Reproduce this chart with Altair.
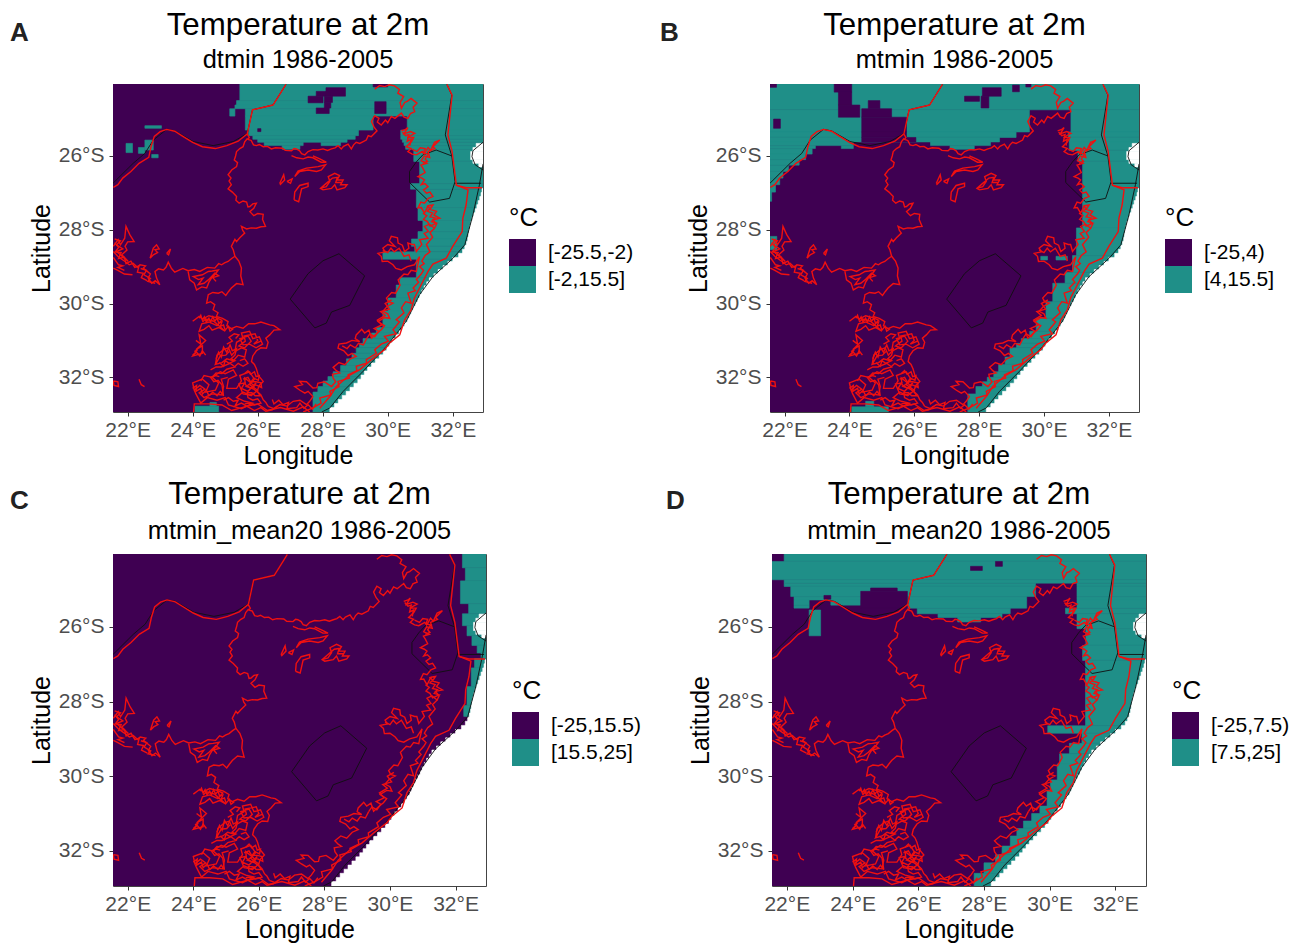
import altair as alt
import pandas as pd

FONT = "Liberation Sans"
PURPLE = "#3F0052"
TEAL = "#1F8F88"
LON_DOMAIN = [21.55, 32.93]
LAT_DOMAIN = [-32.94, -24.05]
LON_TICKS = [22, 24, 26, 28, 30, 32]
LAT_TICKS = [-26, -28, -30, -32]

# coast: latitude of each raster row, and the longitude where the sea starts
SEA_LAT = [-26.88, -26.99, -27.10, -27.21, -27.32, -27.43, -27.54, -27.65, -27.76, -27.87, -27.98, -28.09, -28.20, -28.31,
           -28.42, -28.53, -28.64, -28.75, -28.86, -28.97, -29.08, -29.19, -29.30, -29.41, -29.52, -29.63, -29.74, -29.85,
           -29.96, -30.07, -30.18, -30.29, -30.40, -30.51, -30.62, -30.73, -30.84, -30.95, -31.06, -31.17, -31.28, -31.39,
           -31.50, -31.61, -31.72, -31.83, -31.94, -32.05, -32.16, -32.27, -32.38, -32.49, -32.60, -32.71, -32.82, -32.99]
SEA_LON = [32.9, 32.87, 32.83, 32.78, 32.74, 32.69, 32.64, 32.6, 32.56, 32.53, 32.5, 32.48, 32.46, 32.42,
           32.37, 32.3, 32.18, 32.0, 31.85, 31.7, 31.55, 31.42, 31.28, 31.2, 31.12, 31.05, 30.98, 30.92,
           30.85, 30.78, 30.72, 30.66, 30.6, 30.52, 30.44, 30.35, 30.25, 30.14, 30.05, 29.97, 29.86, 29.74,
           29.62, 29.5, 29.38, 29.28, 29.18, 29.08, 28.96, 28.84, 28.72, 28.6, 28.48, 28.36, 28.22]
# bay: (top, bottom, lon left)
BAY = [(-25.66, -25.77, 32.72), (-25.77, -25.88, 32.62), (-25.88, -26.1, 32.55), (-26.1, -26.2, 32.62), (-26.2, -26.3, 32.8)]

# each cell: (lat top, lat bottom, lon left, lon right)
TEAL_A = [(-24.04, -24.5, 25.45, 33), (-24.5, -24.62, 25.35, 33), (-24.62, -24.72, 25.3, 33), (-24.72, -24.92, 25.62, 33),
          (-24.72, -24.92, 25.14, 25.3), (-24.92, -25.3, 25.62, 29.55), (-24.92, -25.3, 30.6, 33),
          (-25.3, -25.45, 25.72, 29.1), (-25.3, -25.45, 30.4, 33), (-25.45, -25.55, 25.85, 29.0), (-25.45, -25.55, 30.4, 33),
          (-25.55, -25.63, 26.0, 28.75), (-25.55, -25.63, 30.45, 33), (-25.63, -25.72, 26.2, 27.4), (-25.63, -25.72, 27.95, 28.55),
          (-25.63, -25.72, 30.5, 33), (-25.72, -25.82, 26.75, 27.3), (-25.72, -25.82, 30.55, 33),
          (-25.82, -26.15, 30.8, 33), (-26.15, -26.75, 30.98, 33), (-26.75, -26.9, 30.7, 33), (-26.9, -27.4, 30.88, 33),
          (-27.4, -27.75, 30.93, 33), (-27.75, -28.05, 31.08, 33), (-28.05, -28.25, 30.93, 33), (-28.25, -28.45, 30.73, 33),
          (-28.45, -28.6, 30.83, 33), (-28.6, -28.8, 29.85, 33), (-28.8, -29.3, 30.88, 33), (-29.3, -29.5, 30.37, 33),
          (-29.5, -29.85, 30.26, 33), (-29.85, -30.2, 30.01, 33), (-30.2, -30.65, 29.85, 33), (-30.65, -30.8, 29.65, 33), (-30.8, -30.95, 29.5, 33),
          (-30.95, -31.08, 29.24, 33), (-31.08, -31.2, 29.13, 33), (-31.2, -31.35, 29.03, 33), (-31.35, -31.5, 28.9, 33),
          (-31.5, -31.68, 28.73, 33), (-31.68, -31.85, 28.55, 33), (-31.85, -31.98, 28.32, 33), (-31.98, -32.1, 28.16, 33),
          (-32.1, -32.25, 28.01, 33), (-32.25, -32.4, 27.85, 33), (-32.4, -32.96, 27.7, 33),
          (-32.78, -32.96, 24.07, 24.8), (-32.68, -32.78, 24.53, 24.73),
          (-25.18, -25.25, 22.53, 23.04), (-25.66, -25.91, 21.95, 22.15), (-25.77, -25.93, 22.33, 22.53),
          (-25.57, -25.84, 22.53, 22.79), (-25.96, -26.05, 22.74, 22.94)]
HOLES_A = [(-24.53, -24.85, 29.6, 29.95), (-24.38, -24.56, 27.55, 28.01), (-24.25, -24.38, 27.8, 28.1),
           (-24.15, -24.38, 28.1, 28.7), (-24.38, -24.55, 28.05, 28.3), (-24.7, -24.85, 27.8, 28.2),
           (-24.55, -24.7, 28.05, 28.25), (-24.04, -24.13, 29.55, 30.0), (-25.26, -25.34, 26.0, 26.1)]

TEAL_B = [(-24.04, -24.75, 21.5, 33), (-24.75, -25.35, 21.5, 29.55), (-24.75, -25.35, 30.83, 33),
          (-25.35, -25.5, 21.5, 29.14), (-25.35, -25.5, 30.75, 33), (-25.5, -25.62, 21.5, 28.63), (-25.5, -25.62, 30.78, 33),
          (-25.62, -25.72, 21.5, 24.12), (-25.62, -25.72, 26.5, 28.35), (-25.72, -25.8, 21.5, 22.95), (-25.72, -25.8, 23.75, 24.12),
          (-25.72, -25.82, 27.1, 27.85), (-25.62, -25.85, 30.78, 33), (-25.8, -25.95, 21.5, 22.85), (-25.95, -26.1, 21.5, 22.65),
          (-26.1, -26.25, 21.5, 22.45), (-26.25, -26.42, 21.5, 22.12), (-26.42, -26.6, 21.5, 21.95), (-26.6, -26.78, 21.5, 21.85),
          (-26.78, -26.98, 21.5, 21.72), (-26.98, -27.23, 21.5, 21.6),
          (-25.85, -26.15, 31.05, 33), (-26.15, -27.95, 31.19, 33), (-27.95, -28.7, 31.0, 33), (-28.7, -29.15, 30.88, 33),
          (-29.15, -29.45, 30.65, 33), (-29.45, -29.95, 30.27, 33), (-29.95, -30.4, 30.06, 33), (-30.4, -30.75, 29.76, 33),
          (-30.75, -30.95, 29.56, 33), (-30.95, -31.08, 29.3, 33), (-31.08, -31.2, 29.15, 33), (-31.2, -31.45, 28.95, 33), (-31.45, -31.65, 28.8, 33),
          (-31.65, -31.85, 28.6, 33), (-31.85, -32.0, 28.45, 33), (-32.0, -32.12, 28.25, 33), (-32.12, -32.25, 28.1, 33), (-32.25, -32.45, 27.9, 33),
          (-32.45, -32.96, 27.65, 33),
          (-28.72, -28.82, 29.9, 30.11), (-28.72, -28.82, 30.37, 30.72), (-32.8, -32.96, 24.07, 25.2), (-32.65, -32.8, 24.5, 24.75),
          (-28.18, -28.54, 21.56, 21.76)]
HOLES_B = [(-24.04, -24.27, 23.53, 24.07), (-24.27, -24.62, 23.66, 24.07), (-24.62, -24.95, 23.66, 24.32),
           (-24.5, -24.72, 24.58, 24.94), (-24.72, -24.95, 24.38, 25.3), (-24.95, -25.35, 24.38, 25.76),
           (-25.35, -25.5, 24.38, 25.76), (-25.5, -25.62, 24.38, 26.05),
           (-24.38, -24.52, 27.55, 28.01), (-24.15, -24.38, 28.1, 28.68), (-24.38, -24.7, 28.06, 28.3),
           (-24.08, -24.26, 29.03, 29.24), (-24.04, -24.13, 29.44, 29.6), (-25.0, -25.25, 21.66, 21.87), (-24.04, -24.14, 21.5, 21.75)]

TEAL_C = [(-24.04, -24.42, 32.21, 33), (-24.42, -24.77, 32.3, 33), (-24.77, -25.38, 32.15, 33), (-25.38, -25.65, 32.4, 33),
          (-25.65, -25.97, 32.21, 33), (-25.97, -26.24, 32.35, 33), (-26.24, -26.5, 32.5, 33), (-26.5, -26.7, 32.66, 33),
          (-26.7, -26.85, 32.78, 33), (-26.85, -27.1, 32.58, 33), (-27.1, -27.6, 32.48, 33), (-27.6, -28.1, 32.35, 33),
          (-28.1, -28.4, 32.25, 33)]
HOLES_C = []

TEAL_D = [(-24.04, -24.25, 21.92, 33), (-24.25, -24.74, 21.5, 33), (-24.74, -24.83, 21.92, 33), (-24.83, -24.92, 21.92, 29.57),
          (-24.83, -24.92, 30.83, 33), (-24.92, -25.19, 22.12, 29.57), (-24.92, -25.19, 30.83, 33), (-25.19, -25.28, 22.22, 29.3),
          (-25.19, -25.28, 30.83, 33), (-25.28, -25.42, 22.22, 22.68), (-25.28, -25.42, 23.34, 24.25), (-25.42, -25.5, 22.22, 22.68),
          (-25.28, -25.5, 25.67, 29.3), (-25.28, -25.5, 30.83, 33), (-25.5, -25.65, 25.97, 28.8), (-25.5, -25.65, 30.48, 33),
          (-25.65, -25.75, 26.6, 28.55), (-25.75, -25.87, 27.2, 27.9), (-25.55, -26.24, 22.68, 23.03),
          (-25.65, -26.05, 30.83, 33), (-26.05, -26.5, 31.1, 33), (-26.5, -26.9, 31.0, 33), (-26.9, -28.65, 31.09, 33),
          (-28.65, -28.85, 29.94, 33), (-28.85, -29.12, 30.98, 33), (-29.12, -29.4, 30.6, 33), (-29.4, -29.67, 30.3, 33),
          (-29.67, -30.1, 30.23, 33), (-30.1, -30.37, 30.02, 33), (-30.37, -30.8, 29.92, 33), (-30.8, -31.0, 29.7, 33), (-31.0, -31.2, 29.45, 33),
          (-31.2, -31.4, 29.2, 33), (-31.4, -31.6, 29.0, 33), (-31.6, -31.87, 28.8, 33), (-31.87, -32.1, 28.55, 33), (-32.1, -32.32, 28.35, 33),
          (-32.32, -32.6, 28.0, 33), (-32.6, -32.96, 27.7, 33)]
HOLES_D = [(-24.96, -25.05, 24.55, 25.36), (-25.05, -25.5, 24.25, 25.67), (-25.16, -25.26, 23.13, 23.34),
           (-24.38, -24.49, 27.59, 27.95), (-24.25, -24.38, 28.35, 28.56)]

# black outlines (lon, lat)
BLACK_BW = [(21.55, -26.74), (22.17, -26.2), (22.53, -25.93), (22.79, -25.57), (23.2, -25.28), (23.45, -25.32), (24.02, -25.61),
            (24.63, -25.72), (25.25, -25.61), (25.68, -25.39), (25.84, -24.75), (26.47, -24.62), (26.87, -24.06)]
BLACK_LS = [(28.5, -28.65), (29.29, -29.25), (28.83, -30.05), (28.27, -30.23), (28.11, -30.53), (27.76, -30.66), (27.0, -29.88),
            (27.55, -29.19), (28.01, -28.84), (28.5, -28.65)]
BLACK_SZ = [(31.97, -26.0), (31.49, -25.84), (31.08, -25.97), (30.88, -26.16), (30.67, -26.42), (30.67, -26.72), (31.29, -27.25),
            (31.9, -27.15), (32.07, -26.7), (31.97, -26.0)]
BLACK_MZ = [(31.82, -24.06), (31.97, -24.35), (31.77, -25.43), (31.97, -26.0)]
BLACK_MZ2 = [(32.07, -26.74), (32.87, -26.74)]
BLACK_COAST = [(32.93, -26.22), (32.82, -26.78), (32.62, -27.6), (32.37, -28.41), (32.01, -28.77), (31.39, -29.27), (30.98, -29.76),
               (30.57, -30.48), (29.96, -31.16), (29.24, -31.84), (28.63, -32.38), (28.22, -32.83), (27.97, -32.94)]
BLACK_BAY = [(32.93, -25.63), (32.62, -25.86), (32.59, -26.02), (32.69, -26.24), (32.93, -26.38)]

RED_BW = [(21.56, -26.85), (21.7, -26.78), (21.85, -26.6), (22.1, -26.42), (22.35, -26.2), (22.65, -26.04), (22.72, -25.75),
          (22.82, -25.47), (23.0, -25.34), (23.2, -25.28), (23.45, -25.33), (23.7, -25.47), (24.0, -25.63), (24.3, -25.75),
          (24.7, -25.8), (25.05, -25.72), (25.4, -25.6), (25.68, -25.4), (25.84, -24.75), (26.47, -24.62), (26.87, -24.06)]
RED_ESC = [(25.68, -25.41), (25.74, -25.5), (25.7, -25.55), (25.8, -25.58), (25.87, -25.7), (25.96, -25.72), (26.05, -25.69), (26.17, -25.75), (26.3, -25.74),
           (26.42, -25.81), (26.55, -25.78), (26.76, -25.79), (26.85, -25.85), (27.04, -25.86), (27.12, -25.8), (27.19, -25.81), (27.29, -25.86), (27.35, -25.94),
           (27.45, -25.97), (27.55, -25.88), (27.7, -25.83), (27.85, -25.84), (28.01, -25.81), (28.15, -25.85), (28.27, -25.81), (28.38, -25.78), (28.47, -25.72),
           (28.57, -25.81), (28.64, -25.74), (28.78, -25.68), (28.88, -25.81), (28.95, -25.7), (29.03, -25.63), (29.14, -25.66), (29.34, -25.57), (29.4, -25.45),
           (29.49, -25.48), (29.67, -25.32), (29.58, -25.22), (29.5, -25.07), (29.6, -24.91), (29.73, -24.98), (29.68, -25.08), (29.8, -25.16), (29.93, -25.03),
           (30.0, -25.1), (30.11, -24.93), (30.22, -24.98), (30.42, -24.84), (30.5, -24.95), (30.62, -24.98), (30.7, -24.85), (30.83, -24.8), (30.78, -24.68), (30.9, -24.57),
           (30.8, -24.5), (30.72, -24.44), (30.6, -24.52), (30.52, -24.55), (30.42, -24.71), (30.38, -24.55), (30.49, -24.39),
           (30.31, -24.3), (30.36, -24.2), (30.21, -24.1), (30.05, -24.07), (29.91, -24.12), (29.75, -24.09), (29.6, -24.19)]
RED_ESC2 = [(27.04, -25.99), (27.2, -26.05), (27.4, -26.08), (27.55, -26.03), (27.7, -26.05), (27.95, -26.17), (28.11, -26.17), (27.91, -26.08), (27.7, -26.0)]
RED_L1 = [(26.68, -26.74), (26.8, -26.51), (26.83, -26.65), (26.7, -26.77), (26.68, -26.74)]
RED_L2 = [(26.9, -26.69), (27.06, -26.62), (27.01, -26.74), (26.9, -26.69)]
RED_L3 = [(27.12, -27.19), (27.14, -26.98), (27.29, -26.8), (27.55, -26.74), (27.55, -26.83), (27.35, -26.89), (27.26, -27.24), (27.12, -27.19)]
RED_L4 = [(27.14, -26.56), (27.29, -26.42), (27.55, -26.38), (27.81, -26.42), (27.96, -26.38), (28.09, -26.24), (27.86, -26.29),
          (27.5, -26.33), (27.24, -26.41), (27.14, -26.56)]
RED_L5 = [(27.93, -26.88), (28.11, -26.83), (28.22, -26.69), (28.17, -26.56), (28.37, -26.47), (28.52, -26.53), (28.44, -26.65),
          (28.63, -26.65), (28.55, -26.78), (28.75, -26.78), (28.68, -26.86), (28.44, -26.92), (28.37, -26.78), (28.27, -26.88),
          (28.01, -26.92), (27.93, -26.88), (28.1, -26.75), (28.3, -26.6), (28.45, -26.58), (28.4, -26.72), (28.6, -26.72)]
RED_E1 = [(30.42, -25.32), (30.55, -25.28), (30.62, -25.23), (30.5, -25.4), (30.7, -25.34), (30.83, -25.39), (30.6, -25.5), (30.8, -25.5), (30.73, -25.61), (30.57, -25.75), (30.72, -25.8), (30.62, -25.88),
          (30.75, -25.95), (30.88, -25.97), (31.06, -25.88), (31.12, -25.95), (31.24, -25.77), (31.32, -25.85), (31.44, -25.63), (31.6, -25.57), (31.39, -25.75), (31.45, -25.8), (31.24, -25.88),
          (31.29, -26.04), (31.12, -26.0), (31.03, -26.13), (31.2, -26.2), (31.02, -26.25), (31.08, -26.33), (31.15, -26.45), (30.93, -26.56), (31.05, -26.6), (31.13, -26.65), (31.03, -26.78), (31.14, -26.75), (31.24, -26.83),
          (31.1, -26.92), (31.19, -27.01), (31.3, -26.98), (31.39, -27.1), (31.25, -27.15), (31.13, -27.28), (31.02, -27.25), (30.93, -27.41), (31.03, -27.4), (31.13, -27.55), (31.25, -27.35), (31.39, -27.33), (31.3, -27.45), (31.5, -27.5), (31.42, -27.6), (31.6, -27.69),
          (31.39, -27.73), (31.5, -27.85), (31.44, -27.96), (31.28, -27.85), (31.13, -27.91), (31.25, -28.05), (31.12, -28.1), (31.24, -28.23), (30.98, -28.27), (31.05, -28.4), (30.88, -28.59), (30.82, -28.4), (30.75, -28.4), (30.62, -28.36),
          (30.65, -28.5), (30.52, -28.59), (30.45, -28.42), (30.32, -28.36), (30.3, -28.22), (30.11, -28.18), (30.05, -28.3), (30.22, -28.45), (30.0, -28.4), (29.85, -28.5), (29.92, -28.6), (29.7, -28.64), (29.8, -28.72), (29.83, -28.86),
          (30.0, -28.85), (30.16, -28.95), (30.25, -29.05), (30.42, -29.09), (30.6, -29.0), (30.82, -28.95), (30.98, -28.73), (30.92, -28.95), (30.88, -29.13), (30.72, -29.1), (30.62, -29.22), (30.5, -29.2), (30.32, -29.36), (30.38, -29.5),
          (30.24, -29.72), (30.12, -29.7), (29.96, -29.85), (30.02, -29.95), (30.16, -29.99), (29.98, -30.08), (29.85, -30.21), (30.0, -30.28), (30.06, -30.4), (29.9, -30.38), (29.7, -30.49), (29.9, -30.6), (29.8, -30.71),
          (29.68, -30.8), (29.5, -30.94), (29.42, -30.72), (29.29, -30.8), (29.2, -30.7), (29.03, -30.85), (29.0, -30.95), (29.14, -31.03), (28.9, -31.0), (28.73, -31.07), (28.5, -31.1), (28.47, -31.21), (28.65, -31.28), (28.78, -31.41),
          (28.9, -31.35), (29.03, -31.43), (28.85, -31.5), (28.68, -31.66), (28.5, -31.6), (28.32, -31.73), (28.42, -31.82), (28.52, -31.88), (28.3, -31.92), (28.32, -32.02), (28.4, -32.12), (28.27, -32.25), (28.05, -32.12), (27.85, -32.16),
          (27.82, -32.28), (27.7, -32.29), (27.5, -32.12), (27.29, -32.11), (27.38, -32.2), (27.14, -32.25), (27.3, -32.35), (27.45, -32.43), (27.55, -32.38), (27.7, -32.52), (27.6, -32.65), (27.5, -32.74), (27.3, -32.62), (27.09, -32.65),
          (26.9, -32.78), (26.68, -32.74), (26.5, -32.85), (26.32, -32.79)]
RED_E2 = [(31.44, -27.96), (31.3, -28.08), (31.38, -28.2), (31.19, -28.4), (31.3, -28.6), (31.15, -28.7), (31.05, -28.85), (31.12, -28.92), (30.98, -29.0), (31.1, -29.1), (31.03, -29.2), (30.88, -29.35), (30.95, -29.42),
          (30.78, -29.58), (30.85, -29.65), (30.62, -29.72), (30.72, -29.99), (30.55, -29.95), (30.42, -30.12), (30.5, -30.25), (30.26, -30.44), (30.36, -30.5), (30.16, -30.71), (30.26, -30.82),
          (29.9, -30.89), (30.02, -31.02), (29.8, -31.1), (29.6, -31.25), (29.65, -31.35), (29.34, -31.52), (29.35, -31.62), (29.03, -31.7), (29.05, -31.82), (28.78, -31.93), (28.82, -32.02), (28.47, -32.11), (28.5, -32.25),
          (28.22, -32.38), (28.25, -32.48), (27.91, -32.56), (27.95, -32.7), (27.7, -32.83), (27.4, -32.94)]
RED_E3 = [(31.2, -27.35), (31.3, -27.42), (31.22, -27.5), (31.38, -27.55), (31.3, -27.65), (31.45, -27.68), (31.35, -27.78), (31.5, -27.82), (31.3, -27.9), (31.22, -27.78), (31.1, -27.72), (31.2, -27.62), (31.08, -27.55)]
RED_E4 = [(30.75, -25.82), (30.9, -25.88), (31.0, -25.78), (31.15, -25.8), (31.1, -25.92), (31.25, -25.95), (31.15, -26.08), (31.22, -26.15), (31.08, -26.2)]
RED_E5 = [(30.45, -25.35), (30.55, -25.45), (30.65, -25.42), (30.6, -25.6), (30.72, -25.55), (30.68, -25.72)]
RED_E6 = [(29.35, -30.95), (29.45, -30.82), (29.6, -30.9), (29.72, -30.75), (29.58, -30.68), (29.82, -30.58), (29.68, -30.45), (29.92, -30.32), (29.78, -30.22), (30.05, -30.15), (29.92, -30.0), (30.12, -29.9)]
RED_E7 = [(28.6, -31.15), (28.75, -31.22), (28.85, -31.12), (29.0, -31.2), (29.1, -31.08), (29.25, -31.12), (29.35, -30.95)]
RED_E8 = [(29.85, -28.55), (30.0, -28.62), (30.1, -28.5), (30.2, -28.6), (30.35, -28.5), (30.5, -28.72), (30.65, -28.68), (30.72, -28.85)]
RED_COAST = [(31.82, -24.06), (31.98, -24.35), (31.85, -25.43), (31.98, -25.88), (32.11, -26.79), (32.41, -26.86), (32.9, -26.86)]
RED_COAST2 = [(32.11, -26.79), (32.47, -26.92), (32.41, -27.33), (32.31, -27.69), (32.29, -28.05), (32.0, -28.45), (31.8, -28.77),
              (31.39, -28.93), (31.24, -29.13), (31.03, -29.49), (30.82, -29.85), (30.72, -30.17), (30.52, -30.44), (30.37, -30.85),
              (30.06, -31.07), (29.9, -31.25), (29.5, -31.52), (29.14, -31.79), (28.78, -31.97), (28.42, -32.25), (28.22, -32.52), (27.91, -32.84)]
RED_INT = [(25.69, -25.52), (25.6, -25.62), (25.55, -25.75), (25.45, -25.8), (25.35, -25.88), (25.32, -26.0), (25.28, -26.11), (25.38, -26.18), (25.35, -26.29), (25.2, -26.38), (25.09, -26.51), (25.18, -26.6), (25.12, -26.68), (25.19, -26.78),
           (25.09, -26.89), (25.22, -26.98), (25.35, -27.1), (25.33, -27.2), (25.43, -27.28), (25.55, -27.22), (25.66, -27.25), (25.7, -27.38), (25.76, -27.37), (25.85, -27.3), (25.96, -27.28), (25.88, -27.42), (25.76, -27.51),
           (25.88, -27.62), (26.0, -27.56), (26.17, -27.58), (26.15, -27.72), (26.24, -27.91), (26.1, -27.92), (25.96, -27.96), (25.8, -27.95), (25.66, -27.98), (25.5, -27.91), (25.54, -28.02), (25.6, -28.09), (25.45, -28.22),
           (25.35, -28.32), (25.3, -28.26), (25.19, -28.45), (25.25, -28.55), (25.3, -28.72), (25.2, -28.78), (25.09, -28.86), (24.98, -28.9), (24.89, -28.95), (24.8, -28.92), (24.68, -29.04), (24.45, -29.02), (24.22, -29.13),
           (24.05, -29.08), (23.86, -29.11), (23.7, -29.05), (23.6, -29.09), (23.45, -29.15), (23.35, -29.05), (23.25, -28.88), (23.18, -29.02), (23.1, -29.09), (22.95, -29.06), (22.84, -29.13), (22.89, -29.31),
           (22.99, -29.49), (22.85, -29.38), (22.74, -29.45), (22.63, -29.31), (22.7, -29.2), (22.48, -29.04), (22.55, -28.98), (22.38, -28.95), (22.3, -29.02), (22.17, -28.91), (22.05, -28.95), (21.92, -28.86),
           (21.82, -28.8), (21.71, -28.73), (21.56, -28.59)]
RED_S1 = [(25.3, -28.72), (25.42, -28.85), (25.5, -29.04), (25.48, -29.25), (25.55, -29.49), (25.35, -29.46), (25.19, -29.58), (25.1, -29.68), (25.02, -29.78), (24.9, -29.68), (24.79, -29.72), (24.62, -29.7), (24.48, -29.76),
          (24.43, -29.99), (24.55, -29.95), (24.68, -30.03), (24.63, -30.17), (24.78, -30.25), (24.73, -30.35), (24.92, -30.4), (25.09, -30.49), (25.05, -30.6), (25.19, -30.68), (25.35, -30.62), (25.55, -30.67),
          (25.72, -30.55), (25.91, -30.55), (26.1, -30.5), (26.37, -30.58), (26.5, -30.6), (26.68, -30.71), (26.5, -30.72), (26.37, -30.85), (26.25, -30.94), (26.32, -31.05), (26.27, -31.21), (26.1, -31.2), (25.96, -31.28),
          (25.85, -31.42), (25.81, -31.57), (25.9, -31.65), (25.96, -31.77), (26.02, -31.95), (26.17, -32.11), (26.05, -32.22), (25.98, -32.38), (26.1, -32.48), (26.17, -32.61), (26.25, -32.68), (26.32, -32.79)]
RED_W2 = [(23.86, -29.13), (23.91, -29.36), (24.05, -29.45), (24.12, -29.63), (24.28, -29.55), (24.43, -29.58), (24.5, -29.42), (24.58, -29.31), (24.7, -29.2), (24.79, -29.09), (24.6, -29.12), (24.48, -29.13),
          (24.3, -29.22), (24.02, -29.27), (24.18, -29.35), (24.32, -29.31), (24.17, -29.49), (24.35, -29.45), (24.48, -29.36), (24.68, -29.18), (24.8, -29.25), (24.62, -29.3), (24.72, -29.4)]
RED_NW = [(21.56, -28.45), (21.71, -28.27), (21.78, -28.41), (21.91, -28.23), (21.95, -27.91), (22.07, -28.14), (22.2, -28.32),
          (22.0, -28.33), (21.92, -28.45), (21.98, -28.55), (21.82, -28.68), (22.02, -28.86), (21.66, -28.59), (21.85, -28.52), (21.66, -28.41), (21.78, -28.3), (21.6, -28.25)]
RED_NW2 = [(21.56, -29.04), (21.7, -29.1), (21.9, -29.2), (22.15, -29.22)]
RED_NW3 = [(21.56, -28.75), (21.72, -28.95), (21.85, -28.98), (21.7, -29.02), (21.9, -29.1)]
RED_NW4 = [(21.6, -28.35), (21.72, -28.48), (21.62, -28.6), (21.8, -28.62), (21.72, -28.78), (21.9, -28.75), (21.95, -28.92), (22.1, -28.85), (22.22, -29.02), (22.35, -28.98), (22.3, -29.15), (22.48, -29.18), (22.42, -29.3), (22.6, -29.38)]
RED_B1 = [(22.69, -28.77), (22.79, -28.5), (22.89, -28.41), (22.97, -28.52), (22.84, -28.54), (22.92, -28.62), (22.79, -28.68), (22.69, -28.77)]
RED_B2 = [(23.2, -28.64), (23.32, -28.52), (23.26, -28.68), (23.2, -28.64)]
RED_B3 = [(22.4, -29.05), (22.58, -29.1), (22.5, -29.22), (22.7, -29.32), (22.62, -29.4), (22.85, -29.45)]
RED_D1 = [(21.56, -32.1), (21.7, -32.12), (21.72, -32.25), (21.58, -32.22), (21.56, -32.1)]
RED_D2 = [(22.35, -32.05), (22.42, -32.2), (22.52, -32.25)]
RED_P1 = [(24.0, -30.48), (24.2, -30.35), (24.3, -30.42), (24.5, -30.33), (24.72, -30.38), (24.9, -30.45), (24.75, -30.6), (24.5, -30.5),
          (24.28, -30.55), (24.2, -30.75), (24.35, -30.7), (24.5, -30.6), (24.6, -30.72), (24.8, -30.65), (25.0, -30.75), (24.65, -30.48), (24.4, -30.42), (24.3, -30.5)]
RED_P2 = [(24.1, -31.0), (24.25, -31.1), (24.2, -30.85), (24.4, -31.0), (24.1, -31.25), (24.3, -31.15), (24.3, -31.35), (24.0, -31.42), (24.15, -31.25), (24.05, -31.3)]
RED_P3 = [(24.7, -31.65), (24.75, -31.4), (24.95, -31.25), (25.1, -31.2), (25.2, -31.4), (25.3, -31.3), (25.5, -31.2), (25.65, -31.25),
          (25.6, -31.45), (25.4, -31.4), (25.25, -31.55), (25.05, -31.5), (24.9, -31.6), (24.7, -31.65), (24.85, -31.42), (25.02, -31.4), (25.12, -31.3)]
RED_P4 = [(25.3, -31.3), (25.35, -31.05), (25.55, -30.95), (25.5, -30.8), (25.75, -30.75), (25.85, -30.95), (26.05, -30.9), (26.15, -31.1),
          (25.95, -31.2), (25.75, -31.1), (25.55, -31.12), (25.45, -30.95), (25.7, -30.88), (25.8, -31.02), (25.6, -31.2), (25.42, -31.15), (25.62, -31.02), (25.58, -30.88), (25.92, -30.82), (26.0, -31.0), (25.88, -31.1), (26.1, -31.02)]
RED_P5 = [(24.05, -32.35), (24.0, -32.15), (24.3, -32.05), (24.5, -32.2), (24.4, -32.4), (24.7, -32.35), (24.8, -32.15), (24.6, -32.0),
          (24.85, -31.85), (25.0, -31.9), (25.25, -31.8), (25.35, -31.95), (25.1, -32.05), (25.05, -32.3), (25.35, -32.3), (25.5, -32.1),
          (25.45, -31.95), (25.75, -31.85), (25.9, -32.05), (25.75, -32.2), (26.0, -32.35), (25.8, -32.5), (25.55, -32.4), (25.35, -32.55),
          (25.6, -32.65), (25.85, -32.7), (25.5, -32.85), (25.1, -32.75), (25.0, -32.55), (24.75, -32.62), (24.45, -32.55), (24.25, -32.7),
          (24.1, -32.45), (24.05, -32.35), (24.22, -32.22), (24.38, -32.32), (24.2, -32.42), (24.35, -32.55), (24.6, -32.45), (24.9, -32.48), (24.95, -32.25), (24.88, -32.05), (25.08, -32.0)]
RED_P6 = [(25.55, -32.05), (25.7, -32.0), (25.8, -32.15), (25.65, -32.25), (25.85, -32.3), (25.95, -32.15), (25.7, -32.38), (25.5, -32.3), (25.6, -32.15), (25.42, -32.18), (25.55, -32.45), (25.75, -32.48), (25.9, -32.42)]
RED_P7 = [(24.03, -32.94), (24.05, -32.72), (24.5, -32.72), (24.9, -32.75), (25.2, -32.9), (25.6, -32.8), (26.0, -32.72), (26.3, -32.9), (26.7, -32.82),
          (27.1, -32.92), (27.4, -32.8), (27.6, -32.94)]
RED_P8 = [(24.55, -31.8), (24.72, -31.72), (24.88, -31.72), (25.15, -31.62), (25.3, -31.72), (25.05, -31.78), (24.9, -31.9), (24.72, -31.88), (24.6, -32.0), (24.35, -31.95), (24.25, -32.1)]
RED_P9 = [(25.05, -31.1), (25.22, -31.02), (25.12, -30.92), (25.28, -30.82), (25.42, -30.85), (25.32, -30.95)]
RED_P10 = [(26.45, -32.6), (26.5, -32.72), (26.65, -32.62), (26.78, -32.74), (26.95, -32.68), (26.9, -32.85), (27.2, -32.82), (27.3, -32.7), (27.42, -32.84), (27.55, -32.74), (27.68, -32.86), (27.8, -32.72)]
RED_Q1 = [(24.2, -30.4), (24.25, -30.32), (24.3, -30.45), (24.36, -30.36), (24.42, -30.5), (24.5, -30.4), (24.55, -30.5), (24.62, -30.36), (24.68, -30.48), (24.75, -30.4), (24.8, -30.52), (24.9, -30.5), (24.85, -30.62), (24.95, -30.58), (25.0, -30.72), (25.1, -30.62), (25.15, -30.75), (25.25, -30.68)]
RED_Q2 = [(25.6, -31.9), (25.7, -31.82), (25.78, -31.92), (25.9, -31.85), (25.95, -31.98), (26.05, -31.95), (26.02, -32.08), (25.88, -32.02), (25.8, -32.12), (25.95, -32.12), (26.1, -32.15), (26.12, -32.28), (25.98, -32.22), (25.85, -32.2), (25.72, -32.1), (25.6, -32.02), (25.62, -32.2), (25.75, -32.28), (25.88, -32.32), (26.0, -32.4), (26.08, -32.5), (25.92, -32.5), (25.82, -32.42), (25.68, -32.42), (25.7, -32.55), (25.85, -32.62), (26.0, -32.58), (26.1, -32.7), (25.9, -32.75), (25.75, -32.7), (25.6, -32.72)]
RED_Q3 = [(24.72, -31.5), (24.8, -31.32), (24.88, -31.45), (24.95, -31.18), (25.05, -31.32), (25.15, -31.12), (25.22, -31.28), (25.35, -31.22), (25.3, -31.4), (25.18, -31.5), (25.3, -31.55), (25.12, -31.62), (25.0, -31.55), (24.95, -31.7), (24.82, -31.6)]
RED_Q4 = [(24.0, -32.3), (24.12, -32.22), (24.1, -32.38), (24.25, -32.3), (24.3, -32.45), (24.42, -32.35), (24.5, -32.5), (24.62, -32.4), (24.75, -32.5), (24.85, -32.38), (24.95, -32.5), (24.9, -32.2), (24.78, -32.08), (24.65, -32.12), (24.55, -32.0), (24.7, -31.95), (24.82, -31.98)]
RED_Q5 = [(25.45, -31.55), (25.6, -31.5), (25.7, -31.62), (25.55, -31.7), (25.4, -31.62), (25.28, -31.72)]
RED_Q6 = [(24.95, -32.62), (25.1, -32.55), (25.25, -32.65), (25.4, -32.62), (25.3, -32.78), (25.5, -32.7), (25.7, -32.8), (25.9, -32.9), (26.1, -32.82), (26.25, -32.92), (26.45, -32.88), (26.6, -32.78)]
RED_Q8 = [(24.0, -31.4), (24.12, -31.32), (24.22, -31.42), (24.3, -31.28), (24.4, -31.4)]

BLACK_LINES = [BLACK_BW, BLACK_LS, BLACK_SZ, BLACK_MZ, BLACK_MZ2, BLACK_COAST, BLACK_BAY]
RED_LINES = [RED_BW, RED_ESC, RED_ESC2, RED_L1, RED_L2, RED_L3, RED_L4, RED_L5, RED_E1, RED_E2, RED_E3, RED_E4, RED_E5, RED_E6, RED_E7, RED_E8, RED_COAST, RED_COAST2, RED_INT, RED_S1,
             RED_W2, RED_NW, RED_NW2, RED_NW3, RED_NW4, RED_B1, RED_B2, RED_B3, RED_D1, RED_D2, RED_P1, RED_P2, RED_P3, RED_P4, RED_P5, RED_P6, RED_P7,
             RED_P8, RED_P9, RED_P10, RED_Q1, RED_Q2, RED_Q3, RED_Q4, RED_Q5, RED_Q6, RED_Q8]


def lines_df(paths):
    rows = []
    for pid, path in enumerate(paths):
        for i, (lon, lat) in enumerate(path):
            rows.append({"path": pid, "i": i, "lon": lon, "lat": lat})
    return pd.DataFrame(rows)


def sea_df():
    rows = [{"t": t, "b": b, "l": l, "r": 33.5} for t, b, l in BAY]
    for k, lon in enumerate(SEA_LON):
        rows.append({"t": SEA_LAT[k], "b": SEA_LAT[k + 1] - 0.03, "l": lon, "r": 33.5})
    return pd.DataFrame(rows)


X = alt.Scale(domain=LON_DOMAIN, nice=False, zero=False)
Y = alt.Scale(domain=LAT_DOMAIN, nice=False, zero=False)


def text_layer(txt, size, x, y, weight="normal", align="center", color="black"):
    return alt.Chart(pd.DataFrame({"t": [txt]})).mark_text(
        font=FONT, fontSize=size, fontWeight=weight, color=color, align=align, baseline="middle").encode(
        text="t:N", x=alt.value(x), y=alt.value(y))


def panel(letter, sub, labels, teal, holes, w, h, tag_x, tag_y, title_y, sub_y, leg_y):
    scale = alt.Scale(domain=labels, range=[PURPLE, TEAL])
    rows = [{"t": 30, "b": -40, "l": 10, "r": 40, "k": labels[0]}]
    rows += [{"t": t, "b": b, "l": l, "r": r, "k": labels[1]} for t, b, l, r in teal]
    rows += [{"t": t, "b": b, "l": l, "r": r, "k": labels[0]} for t, b, l, r in holes]
    x_axis = alt.Axis(values=LON_TICKS, labelExpr="datum.value + '°E'", title="Longitude", grid=False, tickSize=4, tickColor="#333333",
                      domain=False, labelColor="#4D4D4D", labelFontSize=21, titleFontSize=25, labelFont=FONT, titleFont=FONT,
                      titleFontWeight="normal", labelPadding=3, titlePadding=3, titleColor="black")
    y_axis = alt.Axis(values=LAT_TICKS, labelExpr="abs(datum.value) + '°S'", title="Latitude", grid=False, tickSize=4, tickColor="#333333",
                      domain=False, labelColor="#4D4D4D", labelFontSize=21, titleFontSize=25, labelFont=FONT, titleFont=FONT,
                      titleFontWeight="normal", labelPadding=5, titlePadding=4, titleColor="black")
    cells = alt.Chart(pd.DataFrame(rows)).mark_rect(clip=True, strokeWidth=0.6).encode(
        x=alt.X("l:Q", scale=X, axis=x_axis),
        x2="r:Q",
        y=alt.Y("t:Q", scale=Y, axis=y_axis),
        y2="b:Q",
        color=alt.Color("k:N", scale=scale, sort=labels, legend=alt.Legend(
            title="°C", orient="none", legendX=w + 26, legendY=leg_y, symbolType="square", symbolSize=729, symbolStrokeWidth=0,
            symbolOpacity=1, rowPadding=0, labelFontSize=21, labelFont=FONT, labelColor="black", titleFontSize=26, titleFont=FONT,
            titleFontWeight="normal", titleColor="black", titlePadding=8, labelOffset=12)),
        stroke=alt.Stroke("k:N", scale=scale, legend=None),
    )
    sea = alt.Chart(sea_df()).mark_rect(clip=True, color="white", strokeWidth=0.6, stroke="white").encode(
        x=alt.X("l:Q", scale=X), x2="r:Q", y=alt.Y("t:Q", scale=Y), y2="b:Q")
    black = alt.Chart(lines_df(BLACK_LINES)).mark_line(clip=True, color="#101010", strokeWidth=0.9).encode(
        x=alt.X("lon:Q", scale=X), y=alt.Y("lat:Q", scale=Y), detail="path:N", order="i:Q")
    red = alt.Chart(lines_df(RED_LINES)).mark_line(clip=True, color="#F01010", strokeWidth=1.4).encode(
        x=alt.X("lon:Q", scale=X), y=alt.Y("lat:Q", scale=Y), detail="path:N", order="i:Q")
    tag = text_layer(letter, 26, tag_x, tag_y, "bold", "left", "#222222")
    title = text_layer("Temperature at 2m", 31.3, w / 2, title_y)
    subtitle = text_layer(sub, 25.4, w / 2, sub_y)
    return alt.layer(cells, sea, black, red, tag, title, subtitle).properties(width=w, height=h)


a = panel("A", "dtmin 1986-2005", ["[-25.5,-2)", "[-2,15.5]"], TEAL_A, HOLES_A, 370, 328, -103, -51, -58, -24, 121)
b = panel("B", "mtmin 1986-2005", ["[-25,4)", "[4,15.5]"], TEAL_B, HOLES_B, 369, 328, -110, -51, -58, -24, 121)
c = panel("C", "mtmin_mean20 1986-2005", ["[-25,15.5)", "[15.5,25]"], TEAL_C, HOLES_C, 373, 332, -103, -53, -59, -23, 124)
d = panel("D", "mtmin_mean20 1986-2005", ["[-25,7.5)", "[7.5,25]"], TEAL_D, HOLES_D, 374, 332, -106, -53, -59, -23, 124)

chart = alt.vconcat(
    alt.hconcat(a, b, spacing=287, bounds="flush").resolve_scale(color="independent", stroke="independent"),
    alt.hconcat(c, d, spacing=286, bounds="flush").resolve_scale(color="independent", stroke="independent"),
    spacing=9,
).resolve_scale(color="independent", stroke="independent").configure_view(stroke="#444444", strokeWidth=1).properties(
    padding={"left": 1, "top": 1, "right": 2, "bottom": 2})

chart.save("out.html", embed_options={"renderer": "svg", "actions": False})
